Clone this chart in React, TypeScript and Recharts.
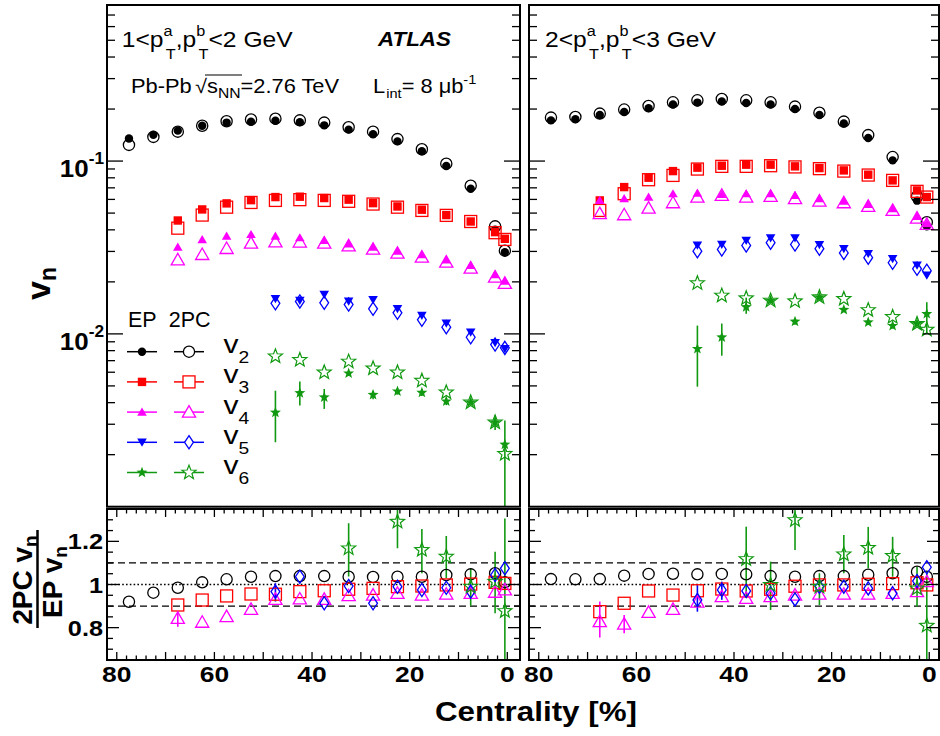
import React from 'react';
import { ScatterChart, Scatter, XAxis, YAxis, ErrorBar, ReferenceLine } from 'recharts';

const FONT = '"Liberation Sans", Arial, Helvetica, sans-serif';
const SX = 1.12; // the figure is a little wider than tall

// centrality bin centres [%]
const cent = [77.5, 72.5, 67.5, 62.5, 57.5, 52.5, 47.5, 42.5, 37.5, 32.5, 27.5, 22.5, 17.5, 12.5, 7.5, 2.5, 0.5];

// ---- 1 < pT < 2 GeV, v_n ----
const v2EP_L = [0.135, 0.142, 0.150, 0.160, 0.167, 0.169, 0.171, 0.168, 0.161, 0.152, 0.143, 0.130, 0.114, 0.0936, 0.0692, 0.0401, 0.0297];
const v2PC_L = [0.124, 0.138, 0.148, 0.160, 0.170, 0.174, 0.176, 0.172, 0.167, 0.157, 0.148, 0.134, 0.117, 0.0966, 0.072, 0.0419, 0.0303];
const v3EP_L = [null, null, 0.0453, 0.0525, 0.0569, 0.0594, 0.0619, 0.0622, 0.0611, 0.0598, 0.0571, 0.0546, 0.0523, 0.0487, 0.0447, 0.0388, 0.0355];
const v3PC_L = [null, null, 0.0409, 0.0487, 0.0541, 0.0576, 0.0592, 0.0598, 0.0592, 0.0585, 0.0564, 0.0541, 0.0518, 0.0485, 0.0447, 0.0385, 0.0352];
const v4EP_L = [null, null, 0.0318, 0.0351, 0.0368, 0.0376, 0.0368, 0.0360, 0.0347, 0.0332, 0.0318, 0.0301, 0.0287, 0.0268, 0.0249, 0.0220, 0.0202];
const v4PC_L = [null, null, 0.0268, 0.0288, 0.0312, 0.0335, 0.0341, 0.0340, 0.0335, 0.0323, 0.0309, 0.0293, 0.0278, 0.0260, 0.0240, 0.0213, 0.0196];
const v5EP_L = [null, null, null, null, null, null, 0.01595, 0.0156, 0.0169, 0.01545, 0.01574, 0.01396, 0.01277, 0.01152, 0.01021, 0.00887, 0.00819];
const v5PC_L = [null, null, null, null, null, null, 0.01503, 0.0154, 0.01513, 0.01478, 0.01396, 0.01324, 0.01206, 0.01093, 0.00956, 0.00867, 0.0083];
const v6EP_L = [null, null, null, null, null, null, 0.00351, 0.00455, 0.0043, 0.00591, 0.00444, 0.00465, 0.00457, 0.00407, 0.00402, 0.00308, 0.00229];
const v6PC_L = [null, null, null, null, null, null, 0.00742, 0.00707, 0.00599, 0.00692, 0.00632, 0.00599, 0.00536, 0.00459, 0.00402, 0.00308, 0.00202];
const v6EPerr_L = [null, null, null, null, null, null, [0.00115, 0.00118], [0.0007, 0.00075], [0.00062, 0.0005], [0.0002, 0.0002], [0.00025, 0.00025], [0.0002, 0.0002], [0.0002, 0.0002], [0.0002, 0.0002], null, [0.0003, 0.0003], [0.00129, 0.00086]];

// ---- 2 < pT < 3 GeV, v_n ----
const v2EP_R = [0.172, 0.1745, 0.1848, 0.1923, 0.2020, 0.2123, 0.218, 0.221, 0.2168, 0.2123, 0.2001, 0.1848, 0.1648, 0.136, 0.1009, 0.059, 0.0419];
const v2PC_R = [0.1784, 0.180, 0.1882, 0.1986, 0.2084, 0.2188, 0.2247, 0.2286, 0.2247, 0.2188, 0.2066, 0.1906, 0.1692, 0.1413, 0.1055, 0.0624, 0.0443];
const v3EP_R = [null, null, 0.0592, 0.0707, 0.0801, 0.0875, 0.0916, 0.0940, 0.0953, 0.0953, 0.0932, 0.0911, 0.0883, 0.0834, 0.0773, 0.0676, 0.0619];
const v3PC_R = [null, null, 0.0518, 0.0647, 0.078, 0.0826, 0.0899, 0.0932, 0.0932, 0.0940, 0.0925, 0.0904, 0.0875, 0.0830, 0.0773, 0.0668, 0.0619];
const v4EP_R = [null, null, 0.0592, 0.0606, 0.0619, 0.0647, 0.0653, 0.0641, 0.0647, 0.0647, 0.0633, 0.0606, 0.0586, 0.0561, 0.0530, 0.0478, 0.0434];
const v4PC_R = [null, null, 0.0496, 0.0489, 0.0534, 0.0574, 0.0619, 0.0633, 0.0619, 0.0625, 0.0606, 0.0586, 0.0574, 0.0547, 0.0518, 0.0468, 0.0430];
const v5EP_R = [null, null, null, null, null, null, 0.0325, 0.0329, 0.0347, 0.0358, 0.0358, 0.0328, 0.0311, 0.0291, 0.0272, 0.0249, 0.0218];
const v5PC_R = [null, null, null, null, null, null, 0.0301, 0.0308, 0.0325, 0.0337, 0.0329, 0.0311, 0.0294, 0.0276, 0.0258, 0.0238, 0.0232];
const v6EP_R = [null, null, null, null, null, null, 0.00819, 0.00956, 0.0143, 0.0156, 0.01179, 0.0163, 0.01379, 0.01168, 0.01113, 0.01143, 0.01305];
const v6PC_R = [null, null, null, null, null, null, 0.01965, 0.01667, 0.01608, 0.0156, 0.01545, 0.0163, 0.01595, 0.01374, 0.01254, 0.01143, 0.01059];
const v6EPerr_R = [null, null, null, null, null, null, [0.00324, 0.00298], [0.00208, 0.00192], [0.00123, 0.0019], [0.0004, 0.0004], [0.0005, 0.0005], [0.0004, 0.0004], [0.0004, 0.0004], [0.0004, 0.0004], [0.0004, 0.0004], [0.0004, 0.0004], [0.00305, 0.0022]];

// ---- 2PC / EP ratios ----
const r2_L = [0.920, 0.962, 0.985, 1.010, 1.024, 1.036, 1.039, 1.039, 1.039, 1.036, 1.035, 1.036, 1.036, 1.044, 1.047, 1.052, 1.010];
const r3_L = [null, null, 0.905, 0.928, 0.947, 0.956, 0.955, 0.967, 0.971, 0.978, 0.982, 0.990, 0.993, 0.998, 1.002, 1.010, 1.005];
const r4_L = [null, null, 0.843, 0.825, 0.851, 0.885, 0.931, 0.933, 0.931, 0.948, 0.951, 0.959, 0.951, 0.955, 0.959, 0.964, 0.975];
const r5_L = [null, null, null, null, null, null, 0.967, 1.036, 0.913, 0.993, 0.913, 0.990, 0.975, 0.985, 0.967, 1.044, 1.075];
const r6_L = [null, null, null, null, null, null, null, null, null, 1.168, null, 1.291, 1.160, 1.129, 0.990, 1.013, 0.877];
const r4err_L = [null, null, [0.039, 0.031], null, null, null, null, null, null, null, null, null, null, null, null, null, null];
const r5err_L = [null, null, null, null, null, null, [0.046, 0.039], null, null, null, null, null, null, null, null, null, null];
const r6err_L = [null, null, null, null, null, null, null, null, null, [0.131, 0.116], null, [0.123, 0.059], [0.108, 0.097], [0.10, 0.096], [0.089, 0.085], [0.146, 0.139], [0.227, 0.429]];

const r2_R = [1.025, 1.024, 1.025, 1.041, 1.049, 1.050, 1.047, 1.049, 1.047, 1.039, 1.036, 1.039, 1.039, 1.045, 1.052, 1.059, 1.036];
const r3_R = [null, null, 0.874, 0.913, 0.970, 0.951, 0.971, 0.979, 0.970, 0.978, 0.992, 0.998, 0.998, 1.001, 1.004, 1.008, 0.998];
const r4_R = [null, null, 0.828, 0.816, 0.871, 0.885, 0.918, 0.944, 0.936, 0.944, 0.951, 0.955, 0.955, 0.955, 0.959, 0.967, 1.013];
const r5_R = [null, null, null, null, null, null, 0.928, 0.975, 0.970, 0.959, 0.931, 0.990, 0.990, 0.982, 0.959, 1.016, 1.080];
const r6_R = [null, null, null, null, null, null, null, null, 1.118, 0.998, 1.299, 0.990, 1.14, 1.170, 1.133, 0.982, 0.809];
const r4err_R = [null, null, [0.074, 0.093], [0.042, 0.043], null, null, null, null, null, null, null, null, null, null, null, null, null];
const r5err_R = [null, null, null, null, null, null, [0.054, 0.069], [0.046, 0.038], null, null, null, null, null, null, null, null, null];
const r6err_R = [null, null, null, null, null, null, null, null, [0.175, 0.15], [0.116, 0.108], [0.139, 0.046], [0.085, 0.062], [0.088, 0.089], [0.095, 0.097], [0.097, 0.088], [0.085, 0.1], [0.159, 0.25]];

// axis ticks
const xTickVals = [0, 2, 4, 6, 8, 10, 12, 14, 16, 18, 20, 22, 24, 26, 28, 30, 32, 34, 36, 38, 40, 42, 44, 46, 48, 50, 52, 54, 56, 58, 60, 62, 64, 66, 68, 70, 72, 74, 76, 78, 80];
const logTickVals = [0.002, 0.003, 0.004, 0.005, 0.006, 0.007, 0.008, 0.009, 0.01, 0.02, 0.03, 0.04, 0.05, 0.06, 0.07, 0.08, 0.09, 0.1, 0.2, 0.3, 0.4, 0.5, 0.6, 0.7, 0.8];
const ratioTickVals = [0.7, 0.75, 0.8, 0.85, 0.9, 0.95, 1, 1.05, 1.1, 1.15, 1.2, 1.25, 1.3];
const ratioMajor = [0.8, 1, 1.2];

const HARM = [
  { n: '2', color: '#000000', ep: 'fc', pc: 'oc' },
  { n: '3', color: '#ff0000', ep: 'fs', pc: 'os' },
  { n: '4', color: '#ff00ff', ep: 'ft', pc: 'ot' },
  { n: '5', color: '#0000ff', ep: 'fd', pc: 'od' },
  { n: '6', color: '#119911', ep: 'fstar', pc: 'ostar' },
];

const pts = (ys: any[], errs?: any[]) =>
  cent.map((x, i) => ({ x, y: ys[i], e: errs && errs[i] ? errs[i] : [0, 0] })).filter((d) => d.y != null);

function starPath(cx: number, cy: number, R: number) {
  const p: string[] = [];
  for (let i = 0; i < 10; i++) {
    const r = i % 2 === 0 ? R : R * 0.42;
    const a = -Math.PI / 2 + (i * Math.PI) / 5;
    p.push(`${(cx + r * Math.cos(a)).toFixed(2)},${(cy + r * Math.sin(a)).toFixed(2)}`);
  }
  return 'M' + p.join('L') + 'Z';
}

function Mark({ kind, cx, cy, color, bg = 'none' }: any) {
  if (cx == null || cy == null || isNaN(cx) || isNaN(cy)) return null;
  const sw = 1.3;
  switch (kind) {
    case 'fc':
      return <circle cx={cx} cy={cy} r={4.2} fill={color} />;
    case 'oc':
      return <circle cx={cx} cy={cy} r={5.6} fill={bg} stroke={color} strokeWidth={sw} />;
    case 'fs':
      return <rect x={cx - 4.2} y={cy - 4.2} width={8.4} height={8.4} fill={color} />;
    case 'os':
      return <rect x={cx - 6} y={cy - 6} width={12} height={12} fill={bg} stroke={color} strokeWidth={sw} />;
    case 'ft':
      return <path d={`M${cx},${cy - 4.6}L${cx + 4.8},${cy + 3.6}L${cx - 4.8},${cy + 3.6}Z`} fill={color} />;
    case 'ot':
      return <path d={`M${cx},${cy - 6.5}L${cx + 6.6},${cy + 5}L${cx - 6.6},${cy + 5}Z`} fill={bg} stroke={color} strokeWidth={sw} />;
    case 'fd':
      return <path d={`M${cx - 4.8},${cy - 3.8}L${cx + 4.8},${cy - 3.8}L${cx},${cy + 4.4}Z`} fill={color} />;
    case 'od':
      return <path d={`M${cx},${cy - 6.6}L${cx + 4.4},${cy}L${cx},${cy + 6.6}L${cx - 4.4},${cy}Z`} fill={bg} stroke={color} strokeWidth={sw} />;
    case 'fstar':
      return <path d={starPath(cx, cy, 5.8)} fill={color} />;
    case 'ostar':
      return <path d={starPath(cx, cy, 7.4)} fill={bg} stroke={color} strokeWidth={1.2} strokeLinejoin="miter" />;
    default:
      return null;
  }
}

function xTick(topY: number, botY: number, big: number, small: number, labels: boolean) {
  return (p: any) => {
    const v = p.payload.value;
    const l = v % 10 === 0 ? big : small;
    return (
      <g>
        <line x1={p.x} x2={p.x} y1={botY} y2={botY - l} stroke="#000" strokeWidth={1.3} />
        <line x1={p.x} x2={p.x} y1={topY} y2={topY + l} stroke="#000" strokeWidth={1.3} />
        {labels && v % 20 === 0 && (
          <text transform={`translate(${p.x},${botY + 22}) scale(1.2,1)`} textAnchor="middle" fontSize={22} fontWeight="bold" fontFamily={FONT}>
            {v}
          </text>
        )}
      </g>
    );
  };
}

function logTick(lx: number, rx: number, labels: boolean) {
  return (p: any) => {
    const v = p.payload.value;
    const e = Math.log10(v);
    const major = Math.abs(e - Math.round(e)) < 1e-6;
    const l = major ? 16 : 8;
    return (
      <g>
        <line x1={lx} x2={lx + l} y1={p.y} y2={p.y} stroke="#000" strokeWidth={1.3} />
        <line x1={rx - l} x2={rx} y1={p.y} y2={p.y} stroke="#000" strokeWidth={1.3} />
        {labels && major && (
          <text transform={`translate(${lx - 3},${p.y + 16}) scale(1.08,1)`} textAnchor="end" fontSize={24} fontWeight="bold" fontFamily={FONT}>
            10<tspan dy={-13} fontSize={16}>{String(Math.round(e))}</tspan>
          </text>
        )}
      </g>
    );
  };
}

function ratioTick(lx: number, rx: number, labels: boolean) {
  return (p: any) => {
    const v = p.payload.value;
    const major = ratioMajor.some((m) => Math.abs(v - m) < 1e-6);
    const l = major ? 12 : 6;
    return (
      <g>
        <line x1={lx} x2={lx + l} y1={p.y} y2={p.y} stroke="#000" strokeWidth={1.3} />
        <line x1={rx - l} x2={rx} y1={p.y} y2={p.y} stroke="#000" strokeWidth={1.3} />
        {labels && major && (
          <text transform={`translate(${lx - 4},${p.y + 8}) scale(1.15,1)`} textAnchor="end" fontSize={22} fontWeight="bold" fontFamily={FONT}>
            {Math.abs(v - 1) < 1e-6 ? '1' : v.toFixed(1)}
          </text>
        )}
      </g>
    );
  };
}

function Panel({ x0, y0, w, h, top, left, series }: any) {
  const yW = left ? 107 : 9;
  const mRight = left ? 2 : 1;
  const plotR = w - mRight;
  const pTop = top ? 5 : 9;
  const pBot = top ? 506.7 : 160;
  const xH = top ? 0 : 76;
  const mBottom = h - pBot - xH;
  return (
    <div style={{ position: 'absolute', left: x0, top: y0 }}>
      <ScatterChart width={w} height={h} margin={{ top: pTop, right: mRight, bottom: mBottom, left: 0 }}>
        <XAxis
          dataKey="x"
          type="number"
          domain={left ? [-2.6, 82] : [-2, 82]}
          reversed
          allowDataOverflow
          ticks={xTickVals}
          interval={0}
          height={xH}
          axisLine={false}
          tickLine={false}
          tickSize={0}
          tickMargin={0}
          tick={xTick(pTop, pBot, top ? 13 : 8, top ? 7 : 4.5, !top)}
        />
        <YAxis
          dataKey="y"
          type="number"
          scale={top ? 'log' : 'linear'}
          domain={top ? [0.001, 0.8] : [0.65, 1.35]}
          allowDataOverflow
          ticks={top ? logTickVals : ratioTickVals}
          interval={0}
          width={yW}
          axisLine={false}
          tickLine={false}
          tickSize={0}
          tickMargin={0}
          tick={top ? logTick(yW, plotR, left) : ratioTick(yW, plotR, left)}
        />
        {!top && <ReferenceLine y={1.1} stroke="#000" strokeWidth={1.3} strokeDasharray="7 4" />}
        {!top && <ReferenceLine y={0.9} stroke="#000" strokeWidth={1.3} strokeDasharray="7 4" />}
        {!top && <ReferenceLine y={1} stroke="#000" strokeWidth={1.4} strokeDasharray="1.6 2.2" />}
        {series.map((s: any, i: number) => (
          <Scatter
            key={i}
            data={s.data}
            isAnimationActive={false}
            shape={(p: any) => <Mark kind={s.kind} cx={p.cx} cy={p.cy} color={s.color} />}
          >
            {s.err && <ErrorBar dataKey="e" direction="y" width={0} stroke={s.color} strokeWidth={1.6} />}
          </Scatter>
        ))}
      </ScatterChart>
    </div>
  );
}

const topSeries = (ep: any[], pc: any[], err6: any[]) => {
  const out: any[] = [];
  HARM.forEach((h, i) => {
    out.push({ data: pts(ep[i], i === 4 ? err6 : undefined), kind: h.ep, color: h.color, err: i === 4 });
    out.push({ data: pts(pc[i]), kind: h.pc, color: h.color, err: false });
  });
  return out;
};

const ratioSeries = (rs: any[], errs: any[]) =>
  HARM.map((h, i) => ({ data: pts(rs[i], errs[i] || undefined), kind: h.pc, color: h.color, err: !!errs[i] }));

function PtLabel({ x, y, lo, hi }: any) {
  return (
    <text transform={`translate(${x},${y}) scale(${SX},1)`} fontSize={22} fontFamily={FONT}>
      {lo}&lt;p
      <tspan dy={-11} fontSize={14.5}>a</tspan>
      <tspan dx={-6} dy={23} fontSize={14.5}>T</tspan>
      <tspan dy={-12}>,p</tspan>
      <tspan dy={-11} fontSize={14.5}>b</tspan>
      <tspan dx={-6} dy={23} fontSize={14.5}>T</tspan>
      <tspan dy={-12}>&lt;{hi} GeV</tspan>
    </text>
  );
}

function Overlay() {
  const rows = [351.7, 381.9, 412.1, 442.3, 472.5];
  return (
    <svg width={940} height={736} style={{ position: 'absolute', left: 0, top: 0, pointerEvents: 'none' }}>
      {/* frames */}
      <rect x={107} y={5} width={413} height={501.7} fill="none" stroke="#000" strokeWidth={2} />
      <rect x={529} y={5} width={410} height={501.7} fill="none" stroke="#000" strokeWidth={2} />
      <rect x={107} y={509} width={413} height={151} fill="none" stroke="#000" strokeWidth={2} />
      <rect x={529} y={509} width={410} height={151} fill="none" stroke="#000" strokeWidth={2} />

      <PtLabel x={121.7} y={46.7} lo="1" hi="2" />
      <PtLabel x={545} y={46.7} lo="2" hi="3" />
      <text transform={`translate(378,46) scale(${SX},1)`} fontSize={20} fontWeight="bold" fontStyle="italic" fontFamily={FONT}>
        ATLAS
      </text>
      <text transform={`translate(131,93) scale(${SX},1)`} fontSize={19.5} fontFamily={FONT}>
        Pb-Pb<tspan dx={3}>√</tspan>s<tspan dy={5} fontSize={14}>NN</tspan>
        <tspan dy={-5}>=2.76 TeV</tspan>
      </text>
      <line x1={205} x2={242} y1={75} y2={75} stroke="#000" strokeWidth={1.2} />
      <text transform={`translate(373,93) scale(${SX},1)`} fontSize={19.5} fontFamily={FONT}>
        L<tspan dx={1} dy={5} fontSize={13}>int</tspan>
        <tspan dy={-5}>= 8 μb</tspan>
        <tspan dy={-9} fontSize={13}>-1</tspan>
      </text>

      {/* legend */}
      <text x={128} y={326.7} fontSize={21.5} fontFamily={FONT}>
        EP
      </text>
      <text x={168.7} y={326.7} fontSize={21.5} fontFamily={FONT}>
        2PC
      </text>
      {HARM.map((h, i) => (
        <g key={h.n}>
          <line x1={127} x2={157} y1={rows[i]} y2={rows[i]} stroke={h.color} strokeWidth={1.5} />
          <Mark kind={h.ep} cx={142} cy={rows[i]} color={h.color} />
          <line x1={174} x2={204} y1={rows[i]} y2={rows[i]} stroke={h.color} strokeWidth={1.5} />
          <Mark kind={h.pc} cx={189} cy={rows[i]} color={h.color} bg="#fff" />
          <text transform={`translate(223.5,${rows[i] + 1.5}) scale(1.2,1)`} fontSize={25} fontFamily={FONT}>
            v<tspan dy={10} fontSize={16}>{h.n}</tspan>
          </text>
        </g>
      ))}

      {/* axis titles */}
      <text transform="translate(50,300) rotate(-90)" fontSize={34} fontWeight="bold" fontFamily={FONT}>
        v<tspan dy={6} fontSize={23}>n</tspan>
      </text>
      <text transform="translate(31.5,580) rotate(-90)" textAnchor="middle" fontSize={28} fontWeight="bold" fontFamily={FONT}>
        2PC v<tspan dy={5} fontSize={19}>n</tspan>
      </text>
      <line x1={37.5} x2={37.5} y1={530} y2={628} stroke="#000" strokeWidth={2.5} />
      <text transform="translate(61.5,582) rotate(-90)" textAnchor="middle" fontSize={28} fontWeight="bold" fontFamily={FONT}>
        EP v<tspan dy={5} fontSize={19}>n</tspan>
      </text>
      <text transform={`translate(637,721) scale(${SX},1)`} textAnchor="end" fontSize={28} fontWeight="bold" fontFamily={FONT}>
        Centrality [%]
      </text>
    </svg>
  );
}

export default function App() {
  const topL = topSeries([v2EP_L, v3EP_L, v4EP_L, v5EP_L, v6EP_L], [v2PC_L, v3PC_L, v4PC_L, v5PC_L, v6PC_L], v6EPerr_L);
  const topR = topSeries([v2EP_R, v3EP_R, v4EP_R, v5EP_R, v6EP_R], [v2PC_R, v3PC_R, v4PC_R, v5PC_R, v6PC_R], v6EPerr_R);
  const botL = ratioSeries([r2_L, r3_L, r4_L, r5_L, r6_L], [null, null, r4err_L, r5err_L, r6err_L]);
  const botR = ratioSeries([r2_R, r3_R, r4_R, r5_R, r6_R], [null, null, r4err_R, r5err_R, r6err_R]);
  return (
    <div style={{ position: 'absolute', left: 0, top: 0, width: 940, height: 736, background: '#fff', overflow: 'hidden' }}>
      <Panel x0={0} y0={0} w={522} h={508} top left series={topL} />
      <Panel x0={520} y0={0} w={420} h={508} top left={false} series={topR} />
      <Panel x0={0} y0={500} w={522} h={236} top={false} left series={botL} />
      <Panel x0={520} y0={500} w={420} h={236} top={false} left={false} series={botR} />
      <Overlay />
    </div>
  );
}
